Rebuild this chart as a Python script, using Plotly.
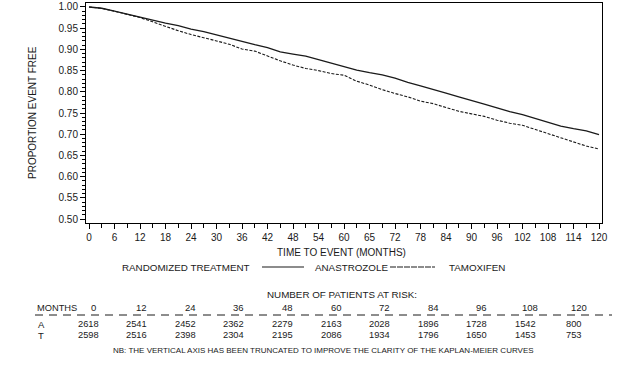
import plotly.graph_objects as go

# ---- data ----
months = list(range(0, 121, 3))
anastrozole = [1.000, 0.997, 0.990, 0.983, 0.975, 0.968, 0.962, 0.956, 0.948, 0.942,
               0.934, 0.927, 0.919, 0.911, 0.904, 0.894, 0.889, 0.884, 0.876, 0.868,
               0.860, 0.851, 0.845, 0.840, 0.832, 0.822, 0.814, 0.806, 0.797, 0.788,
               0.780, 0.771, 0.762, 0.753, 0.746, 0.737, 0.727, 0.719, 0.713, 0.708,
               0.699]
tamoxifen = [1.000, 0.997, 0.990, 0.983, 0.975, 0.965, 0.954, 0.944, 0.935, 0.928,
             0.920, 0.912, 0.901, 0.896, 0.884, 0.873, 0.863, 0.855, 0.850, 0.843,
             0.839, 0.825, 0.816, 0.805, 0.796, 0.788, 0.778, 0.772, 0.763, 0.754,
             0.748, 0.742, 0.733, 0.726, 0.721, 0.711, 0.701, 0.692, 0.682, 0.672,
             0.665]

x_tick_vals = list(range(0, 121, 6))
x_tick_text = ["0", "6", "12", "18", "24", "30", "36", "42", "48", "54", "60", "65",
               "72", "78", "84", "90", "96", "102", "108", "114", "120"]
y_tick_vals = [0.50, 0.55, 0.60, 0.65, 0.70, 0.75, 0.80, 0.85, 0.90, 0.95, 1.00]

risk_months = [0, 12, 24, 36, 48, 60, 72, 84, 96, 108, 120]
risk_A = [2618, 2541, 2452, 2362, 2279, 2163, 2028, 1896, 1728, 1542, 800]
risk_T = [2598, 2516, 2398, 2304, 2195, 2086, 1934, 1796, 1650, 1453, 753]

# ---- layout geometry ----
W, H = 630, 384
L, R, T, B = 86, 602, 3, 223
pw, ph = R - L, B - T
FONT = "Liberation Sans, Arial, sans-serif"
NARROW = "Liberation Sans Narrow, Arial Narrow, Liberation Sans, Arial, sans-serif"
INK = "#1a1a1a"


def px(x):
    return (x - L) / pw


def py(y):
    return (B - y) / ph


fig = go.Figure()
fig.add_trace(go.Scatter(x=months, y=anastrozole, mode="lines", name="ANASTROZOLE",
                         line=dict(color=INK, width=1.3), showlegend=False))
fig.add_trace(go.Scatter(x=months, y=tamoxifen, mode="lines", name="TAMOXIFEN",
                         line=dict(color=INK, width=1.1, dash="3px,1.5px"), showlegend=False))

axis_common = dict(showline=True, linecolor="black", linewidth=1, mirror=True,
                   showgrid=False, zeroline=False, ticks="outside", tickcolor="black",
                   automargin=False,
                   tickfont=dict(family=FONT, size=10, color=INK))

fig.update_xaxes(range=[-0.706, 120.7], tickmode="array", tickvals=x_tick_vals,
                 ticktext=x_tick_text, ticklen=5, tickwidth=1,
                 minor=dict(dtick=3, tick0=0, ticklen=4, tickcolor="black", ticks="outside"),
                 **axis_common)
fig.update_yaxes(range=[0.4906, 1.0094], tickmode="array", tickvals=y_tick_vals,
                 ticktext=[f"{v:.2f}" for v in y_tick_vals], ticklen=5, tickwidth=1,
                 minor=dict(dtick=0.01, tick0=0.5, ticklen=3, tickcolor="black", ticks="outside"),
                 **axis_common)

ann = []


def text(x, y, s, size=10, anchor="center", family=FONT, angle=0):
    ann.append(dict(x=px(x), y=py(y), xref="paper", yref="paper", text=s,
                    showarrow=False, xanchor=anchor, yanchor="middle", textangle=angle,
                    font=dict(family=family, size=size, color=INK)))


text(32, 113, "PROPORTION EVENT FREE", size=10, angle=-90)
text(341, 253, "TIME TO EVENT (MONTHS)", size=10)

# legend row
text(120, 267, "RANDOMIZED TREATMENT", size=9.8, anchor="left")
text(313, 267, "ANASTROZOLE", size=9.8, anchor="left")
text(447, 267, "TAMOXIFEN", size=9.8, anchor="left")
shapes = [
    dict(type="line", xref="paper", yref="paper", x0=px(262), x1=px(304), y0=py(267), y1=py(267),
         line=dict(color=INK, width=1.2)),
    dict(type="line", xref="paper", yref="paper", x0=px(390), x1=px(435), y0=py(267), y1=py(267),
         line=dict(color=INK, width=1.2, dash="6px,1px")),
    dict(type="line", xref="paper", yref="paper", x0=px(35), x1=px(612), y0=py(315), y1=py(315),
         line=dict(color=INK, width=1, dash="8px,6px")),
]

# risk table
text(342, 294, "NUMBER OF PATIENTS AT RISK:", size=9.8)
text(35, 308, "MONTHS", size=9.3, anchor="left", family=NARROW)
text(36, 324, "A", size=9.5, anchor="left", family=NARROW)
text(36, 335, "T", size=9.5, anchor="left", family=NARROW)
for m, a, t in zip(risk_months, risk_A, risk_T):
    cx = 93 + m * 4.05
    text(cx, 307, str(m), size=9.5, family=NARROW)
    text(cx - 5, 324, str(a), size=9.3, family=NARROW)
    text(cx - 5, 335, str(t), size=9.3, family=NARROW)

text(323, 350, "NB: THE VERTICAL AXIS HAS BEEN TRUNCATED TO IMPROVE THE CLARITY OF THE KAPLAN-MEIER CURVES",
     size=8, family=NARROW)

fig.update_layout(width=W, height=H, margin=dict(l=L, r=W - R, t=T, b=H - B),
                  paper_bgcolor="white", plot_bgcolor="white",
                  annotations=ann, shapes=shapes, showlegend=False)

fig.write_html("out.html", config={"displayModeBar": False},
               post_script="document.body.style.margin='0';document.body.style.padding='0';")
